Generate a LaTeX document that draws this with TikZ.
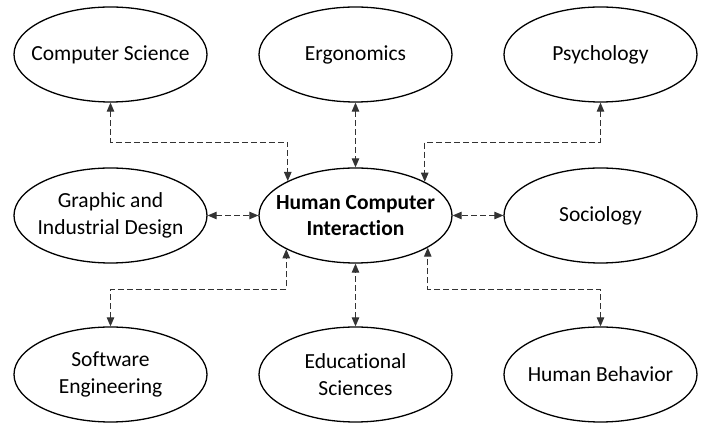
\documentclass[tikz,border=0pt]{standalone}
\usepackage{fontspec}
\setmainfont{Carlito}[Ligatures=NoCommon]
\usetikzlibrary{arrows.meta,shapes.geometric}
\begin{document}
\begin{tikzpicture}[x=1pt,y=1pt,
  ell/.style={draw, ellipse, line width=1.3pt, minimum width=193pt, minimum height=95pt, inner xsep=-30pt, inner ysep=-15pt, align=center, font=\fontsize{21.5}{26.5}\selectfont},
  conn/.style={draw=black!80, line width=0.9pt, dash pattern=on 6pt off 3pt,
    {Triangle[length=9pt,width=7.5pt]}-{Triangle[length=9pt,width=7.5pt]}}]
\useasboundingbox (0,0) rectangle (705,425);
\node[ell] (cs) at (110.5,370.5) {Computer Science};
\node[ell] (erg) at (355.5,370.5) {Ergonomics};
\node[ell] (psy) at (600.5,370.5) {Psychology};
\node[ell] (gid) at (110.5,209.5) {Graphic and\\Industrial Design};
\node[ell, font=\fontsize{21.5}{26.5}\selectfont\bfseries] (hci) at (355.5,209.5) {Human Computer\\Interaction};
\node[ell] (soc) at (600.5,209.5) {Sociology};
\node[ell] (se) at (110.5,50.5) {Software\\Engineering};
\node[ell] (edu) at (355.5,50.5) {Educational\\Sciences};
\node[ell] (hb) at (600.5,50.5) {Human Behavior};
\coordinate (e1) at (cs.south |- 0,283);
\coordinate (e2) at (psy.south |- 0,283);
\coordinate (e3) at (se.north |- 0,136);
\coordinate (e4) at (hb.north |- 0,136);
\draw[conn] (cs.south) -- (e1) -| (hci.153.3);
\draw[conn] (erg.south) -- (hci.north);
\draw[conn] (psy.south) -- (e2) -| (hci.26.7);
\draw[conn] (gid.east) -- (hci.west);
\draw[conn] (soc.west) -- (hci.east);
\draw[conn] (se.north) -- (e3) -| (hci.206.7);
\draw[conn] (edu.north) -- (hci.south);
\draw[conn] (hb.north) -- (e4) -| (hci.336);
\end{tikzpicture}
\end{document}
